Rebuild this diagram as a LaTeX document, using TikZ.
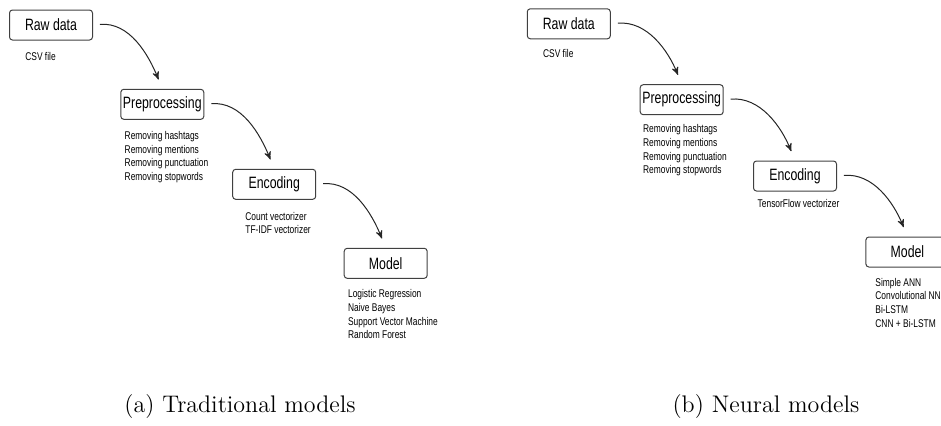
\documentclass[tikz,border=0pt]{standalone}
\usepackage{fontspec}
\usepackage{tikz}
\usetikzlibrary{arrows}
\tikzset{>=stealth'}
\newfontfamily\diagfont[FakeStretch=0.75]{Liberation Sans}

\begin{document}
\begin{tikzpicture}
    [x=0.5pt, y=-0.5pt,
      stage/.style={draw=black!75, line width=0.5pt, rounded corners=1.5pt,
        minimum width=41.5pt, minimum height=15pt, inner sep=0pt,
        font=\diagfont\fontsize{8.2}{9}\selectfont},
      notes/.style={anchor=north west, align=left, inner sep=0pt,
        font=\diagfont\fontsize{5.6}{6.8}\selectfont},
      flow/.style={->, black!85, line width=0.5pt, shorten <=3.5pt, shorten >=5pt},
      caption/.style={anchor=base, font=\fontsize{12}{14}\selectfont}]

    \clip (0,0) rectangle (941,425);

    \node[stage] (raw-a) at (51,25) {Raw data};
    \node[stage] (pre-a) at (162.3,104.3) {Preprocessing};
    \node[stage] (enc-a) at (274.2,184.3) {Encoding};
    \node[stage] (mod-a) at (385.7,263.3) {Model};

    \node[notes] (csv-a) at (25,52) {CSV file};
    \node[notes] (steps-a) at (124.3,131) {Removing hashtags \\ Removing mentions \\
      Removing punctuation \\ Removing stopwords};
    \node[notes] (vec-a) at (245,211.7) {Count vectorizer \\ TF-IDF vectorizer};
    \node[notes] (algo-a) at (347.7,289.3) {Logistic Regression \\ Naive Bayes \\
      Support Vector Machine \\ Random Forest};

    \draw[flow] (raw-a.east) to[out=5, in=112] (pre-a.north);
    \draw[flow] (pre-a.east) to[out=5, in=112] (enc-a.north);
    \draw[flow] (enc-a.east) to[out=5, in=112] (mod-a.north);

    \node[stage] (raw-b) at (568.8,23.8) {Raw data};
    \node[stage] (pre-b) at (681.7,99.7) {Preprocessing};
    \node[stage] (enc-b) at (795,176) {Encoding};
    \node[stage] (mod-b) at (907.4,252) {Model};

    \node[notes] (csv-b) at (542.7,48.7) {CSV file};
    \node[notes] (steps-b) at (642.7,124.3) {Removing hashtags \\ Removing mentions \\
      Removing punctuation \\ Removing stopwords};
    \node[notes] (vec-b) at (757.3,198.7) {TensorFlow vectorizer};
    \node[notes] (algo-b) at (875,277.7) {Simple ANN \\ Convolutional NN \\
      Bi-LSTM \\ CNN + Bi-LSTM};

    \draw[flow] (raw-b.east) to[out=5, in=112] (pre-b.north);
    \draw[flow] (pre-b.east) to[out=5, in=112] (enc-b.north);
    \draw[flow] (enc-b.east) to[out=5, in=112] (mod-b.north);

    \node[caption] (cap-a) at (240,412) {(a) Traditional models};
    \node[caption] (cap-b) at (766,412) {(b) Neural models};
  \end{tikzpicture}
\end{document}
